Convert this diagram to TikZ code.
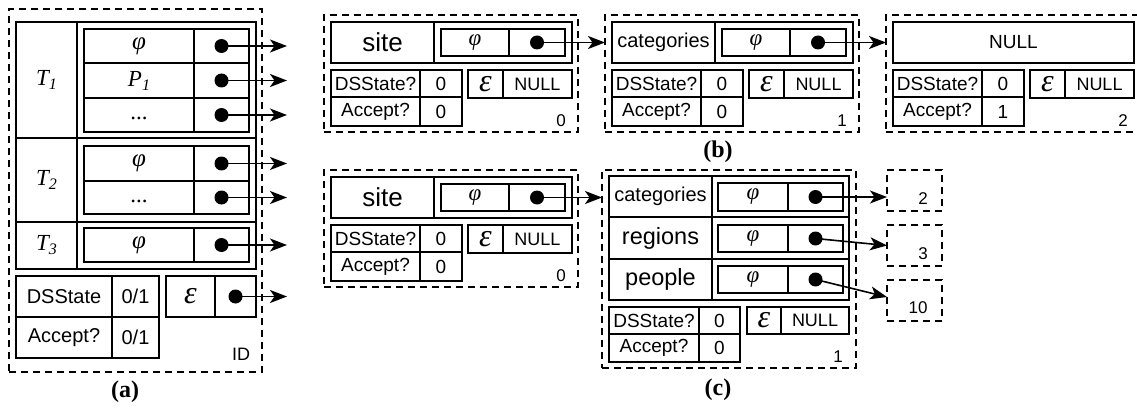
\documentclass[tikz,border=0pt]{standalone}
\usepackage{fontspec}
\setmainfont{Liberation Serif}
\setsansfont{Liberation Sans}
\usetikzlibrary{arrows.meta}
\newcommand{\fs}[1]{\fontsize{#1}{#1}\selectfont}
\newcommand{\cellat}[7][]{%
  \node[cell,#1,minimum width={#5-#3},minimum height={#6-#4}] (#2) at ({(#3+#5)/2},{(#4+#6)/2}) {#7};}
\newcommand{\Tsub}[2]{#1\raisebox{-4pt}{\fs{16}#2}}
\newcommand{\stbox}[6]{%
\begin{scope}[shift={(#2,#3)}]
\cellat[dbox]{#1}{324}{15}{578}{132}{}
\cellat{#1L}{331}{22}{434}{63}{#4}
\cellat{#1R}{434}{22}{572}{63}{}
\cellat[gr]{#1P}{441}{29}{509}{56}{φ}
\cellat{#1Q}{509}{29}{565}{56}{}
\node[dot] (#1d) at (#1Q.center) {};
\cellat{#1DS}{331}{70}{420}{97}{DSState?}
\cellat{#1DSv}{420}{70}{462}{97}{0}
\cellat{#1AC}{331}{97}{420}{126}{Accept?}
\cellat{#1ACv}{420}{97}{462}{126}{#5}
\cellat[ep]{#1E}{468}{70}{503}{98}{ε}
\cellat[snull]{#1N}{503}{70}{572}{98}{NULL}
\node[idx] (#1i) at (561,121) {#6};
\end{scope}}
\begin{document}
\begin{tikzpicture}[x=1pt,y=-1pt,
  cell/.style={draw,rectangle,line width=2.2pt,inner sep=0pt,outer sep=0pt,font=\sffamily\fs{19}},
  dbox/.style={line width=2pt,dash pattern=on 7pt off 5pt},
  gr/.style={font=\itshape\fs{23}},
  gra/.style={font=\itshape\fs{25}},
  ep/.style={font=\itshape\fs{32}},
  snull/.style={font=\sffamily\fs{18}},
  tab/.style={font=\sffamily\fs{20}},
  dot/.style={circle,fill=black,minimum size=14pt,inner sep=0pt},
  arr/.style={line width=1.6pt,-{Stealth[length=17pt,width=13pt,inset=4.5pt]}},
  idx/.style={font=\sffamily\fs{17},inner sep=0pt},
  figcap/.style={font=\bfseries\fs{24},inner sep=0pt}]
\useasboundingbox (0,0) rectangle (1137,409);
\clip (0,0) rectangle (1137,409);
\fill[white] (0,0) rectangle (1137,409);
% ---------- (a)
\cellat[dbox]{A}{9}{9}{262}{372}{}
\cellat[gr]{T1}{16}{22}{77}{138}{\Tsub{T}{1}}
\cellat{T1r}{77}{22}{256}{138}{}
\cellat[gra]{T1a}{84}{29}{194}{63}{φ}
\cellat{T1ap}{194}{29}{249}{63}{}
\cellat[gr]{T1b}{84}{63}{194}{98}{\Tsub{P}{1}}
\cellat{T1bp}{194}{63}{249}{98}{}
\cellat[gr]{T1c}{84}{98}{194}{132}{\upshape\strut...}
\cellat{T1cp}{194}{98}{249}{132}{}
\cellat[gr]{T2}{16}{138}{77}{222}{\Tsub{T}{2}}
\cellat{T2r}{77}{138}{256}{222}{}
\cellat[gra]{T2a}{84}{146}{194}{181}{φ}
\cellat{T2ap}{194}{146}{249}{181}{}
\cellat[gr]{T2b}{84}{181}{194}{214}{\upshape\strut...}
\cellat{T2bp}{194}{181}{249}{214}{}
\cellat[gr]{T3}{16}{222}{77}{269}{\Tsub{T}{3}}
\cellat{T3r}{77}{222}{256}{269}{}
\cellat[gra]{T3a}{84}{228}{194}{262}{φ}
\cellat{T3ap}{194}{228}{249}{262}{}
\cellat[tab]{ADS}{16}{276}{112}{317}{DSState}
\cellat[tab]{ADSv}{112}{276}{159}{317}{0/1}
\cellat[tab]{AAc}{16}{317}{112}{358}{Accept?}
\cellat[tab]{AAcv}{112}{317}{159}{358}{0/1}
\cellat[ep]{AEp}{166}{276}{215}{317}{ε}
\cellat{AEpp}{215}{276}{256}{317}{}
\node[idx,font=\sffamily\fs{18}] (AID) at (241,354) {ID};
\node[figcap] (capa) at (125,392) {(a)};
\coordinate (xa) at (287,0);
\foreach \n in {T1ap,T1bp,T1cp,T2ap,T2bp,T3ap,AEpp}{
  \node[dot] (d\n) at (\n.center) {};
  \draw[arr] (d\n.center) -- (d\n.center -| xa);
}
% ---------- (b)
\stbox{b0}{0}{0}{\fs{26}site}{0}{0}
\stbox{b1}{281}{0}{\fs{20}categories}{0}{1}
\begin{scope}[shift={(562,0)}]
\cellat[dbox]{b2}{324}{15}{578}{132}{}
\cellat{b2L}{331}{22}{572}{63}{NULL}
\cellat{b2DS}{331}{70}{420}{97}{DSState?}
\cellat{b2DSv}{420}{70}{462}{97}{0}
\cellat{b2AC}{331}{97}{420}{126}{Accept?}
\cellat{b2ACv}{420}{97}{462}{126}{1}
\cellat[ep]{b2E}{468}{70}{503}{98}{ε}
\cellat[snull]{b2N}{503}{70}{572}{98}{NULL}
\node[idx] (b2i) at (561,121) {2};
\end{scope}
\draw[arr] (b0d.center) -- (b0d.center -| b1.west);
\draw[arr] (b1d.center) -- (b1d.center -| b2.west);
\node[figcap] (capb) at (718,152) {(b)};
% ---------- (c)
\stbox{c0}{0}{155}{\fs{26}site}{0}{0}
\cellat[dbox]{c1}{602}{170}{856}{368}{}
\cellat[font=\sffamily\fs{20}]{c1L1}{609}{176}{712}{217}{categories}
\cellat{c1R1}{712}{176}{849}{217}{}
\cellat[font=\sffamily\fs{23.5}]{c1L2}{609}{217}{712}{259}{regions}
\cellat{c1R2}{712}{217}{849}{259}{}
\cellat[font=\sffamily\fs{23.5}]{c1L3}{609}{259}{712}{300}{people}
\cellat{c1R3}{712}{259}{849}{300}{}
\cellat[gr]{c1P1}{718}{183}{788}{211}{φ}
\cellat{c1Q1}{788}{183}{843}{211}{}
\cellat[gr]{c1P2}{718}{225}{788}{252}{φ}
\cellat{c1Q2}{788}{225}{843}{252}{}
\cellat[gr]{c1P3}{718}{266}{788}{293}{φ}
\cellat{c1Q3}{788}{266}{843}{293}{}
\node[dot] (c1d1) at (c1Q1.center) {};
\node[dot] (c1d2) at (c1Q2.center) {};
\node[dot] (c1d3) at (c1Q3.center) {};
\cellat{c1DS}{609}{307}{699}{334}{DSState?}
\cellat{c1DSv}{699}{307}{740}{334}{0}
\cellat{c1AC}{609}{334}{699}{362}{Accept?}
\cellat{c1ACv}{699}{334}{740}{362}{0}
\cellat[ep]{c1E}{747}{307}{781}{334}{ε}
\cellat[snull]{c1N}{781}{307}{849}{334}{NULL}
\node[idx] (c1i) at (838,357) {1};
\cellat[dbox]{k2}{887}{170}{942}{211}{}
\cellat[dbox]{k3}{887}{225}{942}{266}{}
\cellat[dbox]{k10}{887}{280}{942}{321}{}
\node[idx] (k2l) at (923,199) {2};
\node[idx] (k3l) at (923,254) {3};
\node[idx] (k10l) at (918,308) {10};
\draw[arr] (c0d.center) -- (c0d.center -| c1.west);
\draw[arr] (c1d1.center) -- (c1d1.center -| k2.west);
\draw[arr] (c1d2.center) -- (k3.west);
\draw[arr] (c1d3.center) -- ([yshift=3.5pt]k10.west);
\node[figcap] (capc) at (718,390) {(c)};
\end{tikzpicture}
\end{document}
